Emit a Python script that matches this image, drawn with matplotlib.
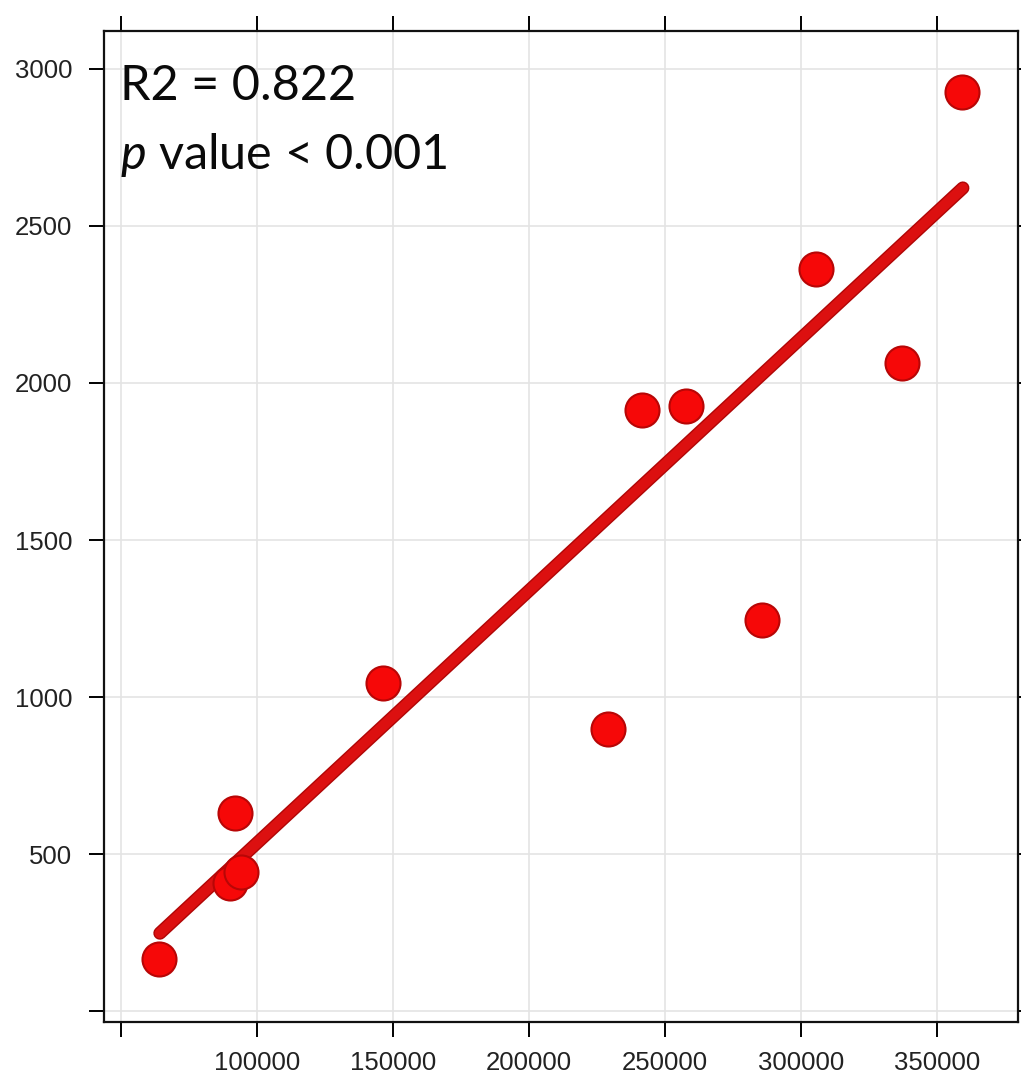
import matplotlib
matplotlib.use('Agg')
import matplotlib.pyplot as plt
import matplotlib.patheffects as pe

plt.rcParams['font.family'] = ['Liberation Sans', 'DejaVu Sans']
plt.rcParams['mathtext.fontset'] = 'custom'
plt.rcParams['mathtext.rm'] = 'Lato'
plt.rcParams['mathtext.it'] = 'Lato:italic'

# values
x_vals = [63970, 91900, 90100, 94100, 146300, 229000, 241500, 257700, 285700, 305500, 337100, 359200]
y_vals = [166, 630, 408, 443, 1045, 898, 1914, 1927, 1245, 2363, 2064, 2927]

# fitted line as drawn (end points)
fit_x = [64300, 359500]
fit_y = [248, 2621]

x_ticks = [50000, 100000, 150000, 200000, 250000, 300000, 350000]
x_labels = ['', '100000', '150000', '200000', '250000', '300000', '350000']
y_ticks = [0, 500, 1000, 1500, 2000, 2500, 3000]
y_labels = ['', '500', '1000', '1500', '2000', '2500', '3000']

fig = plt.figure(figsize=(10.21, 10.75), dpi=100)
ax = fig.add_axes([104 / 1021, 1 - 1022 / 1075, 914 / 1021, 991 / 1075])

ax.plot(fit_x, fit_y, color='#dc1010', lw=7.5, solid_capstyle='round', zorder=3,
        path_effects=[pe.Stroke(linewidth=9.5, foreground='#b00606'), pe.Normal()])
ax.scatter(x_vals, y_vals, s=600, color='#f60808', edgecolors='#b80606',
           linewidths=1.5, zorder=4)

ax.set_xlim(43750, 379780)
ax.set_ylim(-35, 3121)

ax.set_xticks(x_ticks)
ax.set_xticklabels(x_labels)
ax.set_yticks(y_ticks)
ax.set_yticklabels(y_labels)
ax.tick_params(direction='out', length=11, width=1.4, labelsize=18.5, colors='black',
               labelcolor='#222222', top=True, right=True, labeltop=False, labelright=False)
ax.tick_params(axis='x', pad=10)
ax.tick_params(axis='y', pad=12)

ax.grid(True, color='#e4e4e4', lw=1.2)
ax.set_axisbelow(True)
for s in ax.spines.values():
    s.set_linewidth(1.6)
    s.set_color('#111111')

ax.text(0.017, 0.930, 'R2 = 0.822', transform=ax.transAxes, fontsize=35,
        family='Lato', color='#0a0a0a', va='baseline')
ax.text(0.017, 0.861, r'$\mathit{p}$ value < 0.001', transform=ax.transAxes, fontsize=35,
        family='Lato', color='#0a0a0a', va='baseline')

fig.savefig('out.png', dpi=100)
